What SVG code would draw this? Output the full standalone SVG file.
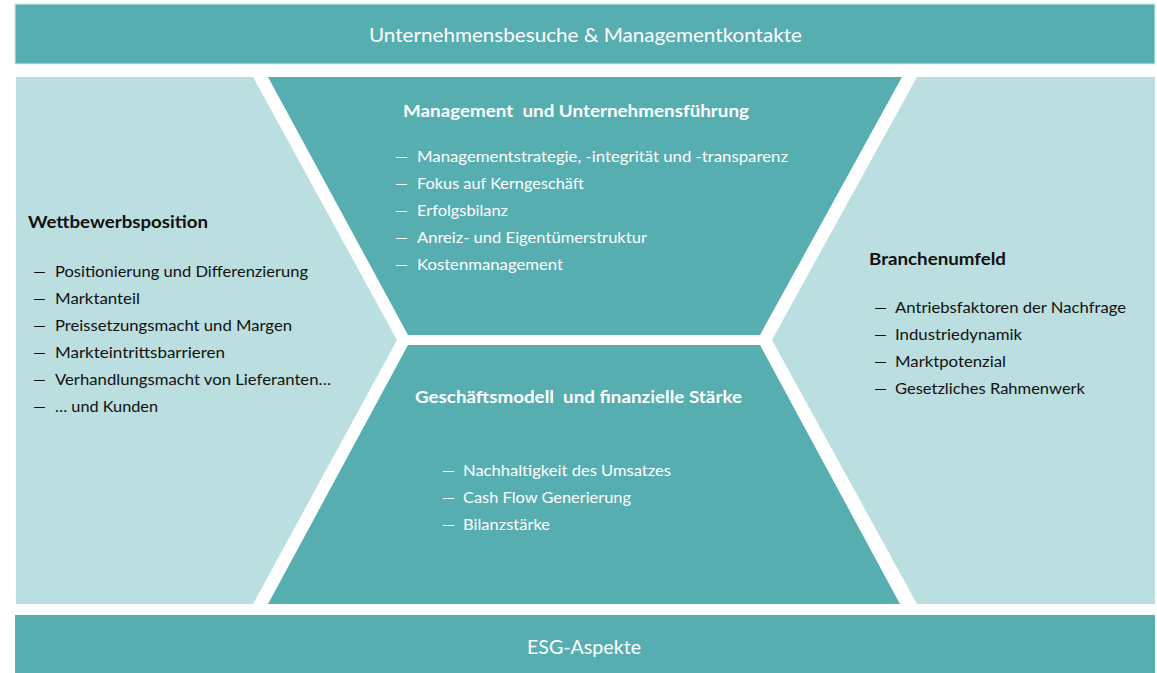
<svg xmlns="http://www.w3.org/2000/svg" width="1157" height="673" viewBox="0 0 1157 673">
<style>
.dark{fill:#57aeb1}
.light{fill:#bbdee0}
text{font-family:Lato,"Open Sans","Liberation Sans",sans-serif}
.bar{font-size:20px;fill:#fff}
.hw{font-size:17px;font-weight:bold;fill:#fff}
.hb{font-size:17px;font-weight:bold;fill:#111}
.tw{font-size:16px;fill:#fff}
.tb{font-size:16px;fill:#111}
</style>
<rect width="1157" height="673" fill="#fff"/>
<g id="top-bar">
<rect x="15" y="4" width="1140" height="60" class="dark" stroke="#d6ecec" stroke-width="1"/>
<text class="bar" x="369" y="42" textLength="433" lengthAdjust="spacingAndGlyphs">Unternehmensbesuche &amp; Managementkontakte</text>
</g>
<g id="wettbewerbsposition">
<polygon class="light" points="16,77 253,77 397,340 253,604 16,604"/>
<text class="hb" x="28" y="228" textLength="180" lengthAdjust="spacingAndGlyphs">Wettbewerbsposition</text>
<text class="tb" x="33" y="277" textLength="13" lengthAdjust="spacingAndGlyphs">—</text><text class="tb" x="55" y="277" textLength="253" lengthAdjust="spacingAndGlyphs">Positionierung und Differenzierung</text>
<text class="tb" x="33" y="304" textLength="13" lengthAdjust="spacingAndGlyphs">—</text><text class="tb" x="55" y="304" textLength="85" lengthAdjust="spacingAndGlyphs">Marktanteil</text>
<text class="tb" x="33" y="331" textLength="13" lengthAdjust="spacingAndGlyphs">—</text><text class="tb" x="55" y="331" textLength="237" lengthAdjust="spacingAndGlyphs">Preissetzungsmacht und Margen</text>
<text class="tb" x="33" y="358" textLength="13" lengthAdjust="spacingAndGlyphs">—</text><text class="tb" x="55" y="358" textLength="170" lengthAdjust="spacingAndGlyphs">Markteintrittsbarrieren</text>
<text class="tb" x="33" y="385" textLength="13" lengthAdjust="spacingAndGlyphs">—</text><text class="tb" x="55" y="385" textLength="276" lengthAdjust="spacingAndGlyphs">Verhandlungsmacht von Lieferanten…</text>
<text class="tb" x="33" y="412" textLength="13" lengthAdjust="spacingAndGlyphs">—</text><text class="tb" x="55" y="412" textLength="103" lengthAdjust="spacingAndGlyphs">… und Kunden</text>
</g>
<g id="management">
<polygon class="dark" points="268,77 902,77 760,335 408,335"/>
<text class="hw" x="403" y="117" textLength="346" lengthAdjust="spacingAndGlyphs" xml:space="preserve">Management  und Unternehmensführung</text>
<text class="tw" x="395" y="162" textLength="13" lengthAdjust="spacingAndGlyphs">—</text><text class="tw" x="417" y="162" textLength="371" lengthAdjust="spacingAndGlyphs">Managementstrategie, -integrität und -transparenz</text>
<text class="tw" x="395" y="189" textLength="13" lengthAdjust="spacingAndGlyphs">—</text><text class="tw" x="417" y="189" textLength="167" lengthAdjust="spacingAndGlyphs">Fokus auf Kerngeschäft</text>
<text class="tw" x="395" y="216" textLength="13" lengthAdjust="spacingAndGlyphs">—</text><text class="tw" x="417" y="216" textLength="91" lengthAdjust="spacingAndGlyphs">Erfolgsbilanz</text>
<text class="tw" x="395" y="243" textLength="13" lengthAdjust="spacingAndGlyphs">—</text><text class="tw" x="417" y="243" textLength="230" lengthAdjust="spacingAndGlyphs">Anreiz- und Eigentümerstruktur</text>
<text class="tw" x="395" y="270" textLength="13" lengthAdjust="spacingAndGlyphs">—</text><text class="tw" x="417" y="270" textLength="146" lengthAdjust="spacingAndGlyphs">Kostenmanagement</text>
</g>
<g id="geschaeftsmodell">
<polygon class="dark" points="408,345 760,345 900,604 268,604"/>
<text class="hw" x="415" y="403" textLength="327" lengthAdjust="spacingAndGlyphs" xml:space="preserve">Geschäftsmodell  und finanzielle Stärke</text>
<text class="tw" x="442" y="476" textLength="13" lengthAdjust="spacingAndGlyphs">—</text><text class="tw" x="463" y="476" textLength="208" lengthAdjust="spacingAndGlyphs">Nachhaltigkeit des Umsatzes</text>
<text class="tw" x="442" y="503" textLength="13" lengthAdjust="spacingAndGlyphs">—</text><text class="tw" x="463" y="503" textLength="168" lengthAdjust="spacingAndGlyphs">Cash Flow Generierung</text>
<text class="tw" x="442" y="530" textLength="13" lengthAdjust="spacingAndGlyphs">—</text><text class="tw" x="463" y="530" textLength="87" lengthAdjust="spacingAndGlyphs">Bilanzstärke</text>
</g>
<g id="branchenumfeld">
<polygon class="light" points="917,77 1155,77 1155,604 917,604 772,340"/>
<text class="hb" x="869" y="265" textLength="137" lengthAdjust="spacingAndGlyphs">Branchenumfeld</text>
<text class="tb" x="874" y="313" textLength="13" lengthAdjust="spacingAndGlyphs">—</text><text class="tb" x="895" y="313" textLength="231" lengthAdjust="spacingAndGlyphs">Antriebsfaktoren der Nachfrage</text>
<text class="tb" x="874" y="340" textLength="13" lengthAdjust="spacingAndGlyphs">—</text><text class="tb" x="895" y="340" textLength="127" lengthAdjust="spacingAndGlyphs">Industriedynamik</text>
<text class="tb" x="874" y="367" textLength="13" lengthAdjust="spacingAndGlyphs">—</text><text class="tb" x="895" y="367" textLength="111" lengthAdjust="spacingAndGlyphs">Marktpotenzial</text>
<text class="tb" x="874" y="394" textLength="13" lengthAdjust="spacingAndGlyphs">—</text><text class="tb" x="895" y="394" textLength="190" lengthAdjust="spacingAndGlyphs">Gesetzliches Rahmenwerk</text>
</g>
<g id="esg-bar">
<rect x="15" y="615" width="1140" height="58" class="dark"/>
<text class="bar" x="584" y="654" text-anchor="middle" textLength="114" lengthAdjust="spacingAndGlyphs">ESG-Aspekte</text>
</g>
<g id="connectors"/>
</svg>
